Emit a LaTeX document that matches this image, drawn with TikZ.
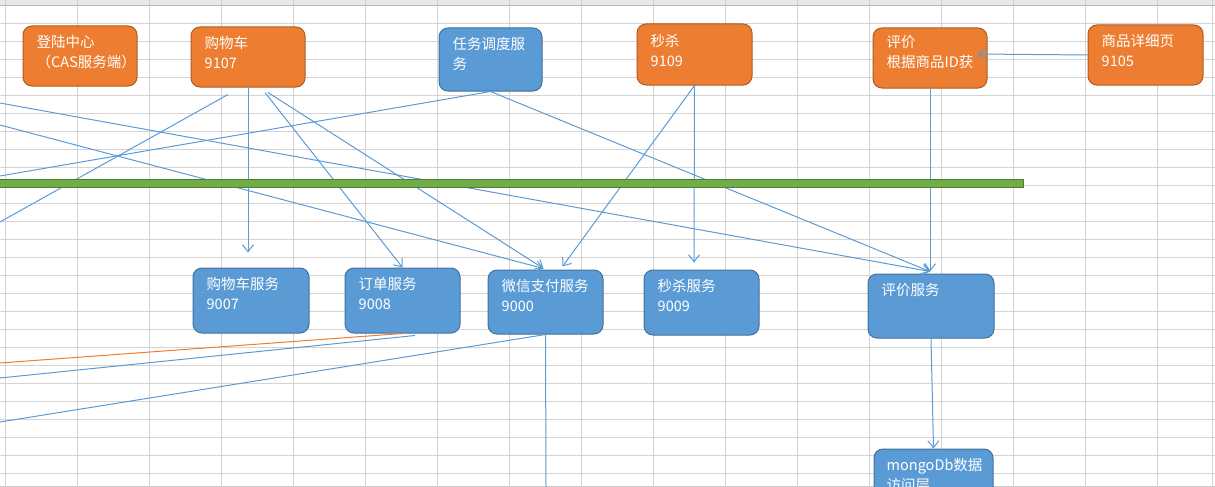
\documentclass[tikz,border=0pt]{standalone}
\usepackage{fontspec}
\newfontfamily\cjk{Noto Sans CJK SC}
\usetikzlibrary{arrows.meta}

\definecolor{boxorange}{HTML}{ED7D31}
\definecolor{orangeline}{HTML}{AE5A21}
\definecolor{boxblue}{HTML}{5B9BD5}
\definecolor{blueline}{HTML}{41719C}
\definecolor{barfill}{HTML}{70AD47}
\definecolor{barline}{HTML}{507E32}
\definecolor{gridgray}{HTML}{D4D4D4}
\definecolor{headgray}{HTML}{E8E8E8}

\begin{document}
\begin{tikzpicture}[
  x=1pt, y=-1pt,
  box/.style={rectangle, rounded corners=9pt, line width=1pt, minimum width=114pt, minimum height=60pt, inner sep=0pt},
  orangebox/.style={box, fill=boxorange, draw=orangeline},
  bluebox/.style={box, fill=boxblue, draw=blueline},
  boxtext/.style={anchor=north west, inner sep=0pt, align=left, text=white, font=\cjk\fontsize{14.5}{20}\selectfont, xshift=14pt, yshift=-10pt},
  link/.style={draw=boxblue, line width=1pt},
  arrow/.style={link, -{Straight Barb[length=7pt, width=11pt]}},
  bar/.style={rectangle, fill=barfill, draw=barline, line width=1pt, inner sep=0pt}
]
\useasboundingbox (0,0) rectangle (1215,487);
\clip (0,0) rectangle (1215,487);

% Sheet grid
\fill[headgray] (0,0) rectangle (1215,5);
\foreach \gx in {0,...,16}
  \draw[gridgray] ({5+72*\gx},0) -- ({5+72*\gx},487);
\draw[gridgray] (1212,0) -- (1212,487);
\foreach \gy in {1,...,26}
  \draw[gridgray] (0,{5+18*\gy}) -- (1215,{5+18*\gy});
\draw[gray!55] (0,5) -- (1215,5);
\draw[gray!40] (0,486) -- (1215,486);

% Top row
\node[orangebox] (cas) at (80,56) {};
\node[boxtext] (cas_t) at (cas.north west) {登陆中心\\（CAS服务端）};
\node[orangebox] (cart) at (248,57) {};
\node[boxtext] (cart_t) at (cart.north west) {购物车\\9107};
\node[bluebox, minimum width=103pt, minimum height=63pt] (task) at (490.5,59.5) {};
\node[boxtext] (task_t) at (task.north west) {任务调度服\\务};
\node[orangebox, minimum width=115pt, minimum height=61pt] (seckill) at (694.5,54.5) {};
\node[boxtext, yshift=-1pt] (seckill_t) at (seckill.north west) {秒杀\\9109};
\node[orangebox] (review) at (930,58) {};
\node[boxtext, yshift=2pt] (review_t) at (review.north west) {评价\\根据商品ID获};
\node[orangebox, minimum width=115pt] (detail) at (1145.5,55) {};
\node[boxtext] (detail_t) at (detail.north west) {商品详细页\\9105};

% Bottom row
\node[bluebox, minimum width=116pt, minimum height=65pt] (cart_svc) at (251,300.5) {};
\node[boxtext] (cart_svc_t) at (cart_svc.north west) {购物车服务\\9007};
\node[bluebox, minimum width=115pt, minimum height=65pt] (order_svc) at (402.5,300.5) {};
\node[boxtext] (order_svc_t) at (order_svc.north west) {订单服务\\9008};
\node[bluebox, minimum width=115pt, minimum height=64pt] (pay_svc) at (545.5,302) {};
\node[boxtext] (pay_svc_t) at (pay_svc.north west) {微信支付服务\\9000};
\node[bluebox, minimum width=115pt, minimum height=65pt] (seckill_svc) at (701.5,302.5) {};
\node[boxtext] (seckill_svc_t) at (seckill_svc.north west) {秒杀服务\\9009};
\node[bluebox, minimum width=126pt, minimum height=64pt] (review_svc) at (931,306) {};
\node[boxtext] (review_svc_t) at (review_svc.north west) {评价服务};
\node[bluebox, minimum width=119pt, minimum height=64pt] (mongo) at (933.5,481) {};
\node[boxtext, xshift=-1pt] (mongo_t) at (mongo.north west) {mongoDb数据\\访问层};

% Loose ends at the sheet border
\coordinate (in_review) at (0,103);
\coordinate (in_pay) at (0,125);
\coordinate (out_task) at (0,176);
\coordinate (out_cart) at (0,222);
\coordinate (out_order) at (0,363);
\coordinate (out_order2) at (0,378);
\coordinate (out_pay) at (0,422);
\coordinate (out_pay_down) at (546,487);

% Calls
\draw[arrow] (cart.south) -- ([xshift=-3pt,yshift=15pt]cart_svc.north);
\draw[arrow] ([xshift=17pt,yshift=-5pt]cart.south) -- (order_svc.north);
\draw[arrow] ([xshift=20pt,yshift=-5pt]cart.south) -- ([xshift=-2pt,yshift=1pt]pay_svc.north);
\draw[link] ([xshift=-20pt,yshift=-7pt]cart.south) -- (out_cart);
\draw[arrow] (in_review) -- ([xshift=-1pt,yshift=2pt]review_svc.north);
\draw[arrow] (in_pay) -- ([xshift=-2pt,yshift=1pt]pay_svc.north);
\draw[link] (task.south) -- (out_task);
\draw[arrow] (task.south) -- ([xshift=-1pt,yshift=2pt]review_svc.north);
\draw[arrow] (seckill.south) -- ([xshift=17pt,yshift=3pt]pay_svc.north);
\draw[arrow] (seckill.south) -- ([xshift=-7.5pt,yshift=7pt]seckill_svc.north);
\draw[arrow] (review.south) -- ([xshift=-1pt,yshift=2pt]review_svc.north);
\draw[arrow] (detail.west) -- ([xshift=-10pt,yshift=4pt]review.east);
\draw[arrow] (review_svc.south) -- (mongo.north);
\draw[link] (pay_svc.south) -- (out_pay_down);
\draw[link] (pay_svc.south) -- (out_pay);
\draw[link, draw=boxorange] (order_svc.south) -- (out_order);
\draw[link] ([xshift=12.5pt,yshift=-2pt]order_svc.south) -- (out_order2);

% Green divider
\node[bar, minimum width=1024pt, minimum height=8pt] (divider) at (511.5,183) {};

\end{tikzpicture}
\end{document}
